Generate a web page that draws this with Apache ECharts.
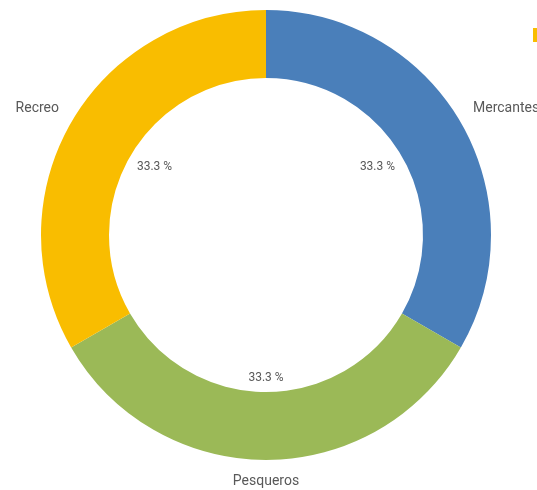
<!DOCTYPE html>
<html>
<head>
<meta charset="utf-8">
<script src="https://cdn.jsdelivr.net/npm/echarts@6/dist/echarts.min.js"></script>
<style>
  html, body { margin: 0; padding: 0; background: #fff; }
  #chart { width: 537px; height: 490px; }
</style>
</head>
<body>
<div id="chart"></div>
<script>
// slices, clockwise from 12 o'clock
const categories = ['Mercantes', 'Pesqueros', 'Recreo']
const values = [1, 1, 1]
const colors = ['#4a7fba', '#9bb957', '#f9bd00']
const legendOrder = ['Recreo', 'Mercantes', 'Pesqueros']

const total = values.reduce((a, b) => a + b, 0)

const slices = categories.map((name, i) => ({
  name: name,
  value: values[i],
  itemStyle: { color: colors[i] }
}))

// put the label box next to the end of the (hidden) label line,
// pushed away from it (outward) or pulled back from it (inward)
function boxAtLineEnd (inward) {
  return function (params) {
    const pts = params.labelLinePoints
    if (!pts) return {}
    const p0 = pts[0]
    const p1 = pts[1]
    let ux = p1[0] - p0[0]
    let uy = p1[1] - p0[1]
    const n = Math.sqrt(ux * ux + uy * uy) || 1
    ux /= n
    uy /= n
    const w = params.labelRect.width
    const h = params.labelRect.height
    const s = inward ? -1 : 1
    const sx = Math.abs(ux) < 0.15 ? 0 : Math.sign(ux)
    const sy = Math.abs(uy) < 0.15 ? 0 : Math.sign(uy)
    return {
      x: p1[0] + s * sx * w / 2,
      y: p1[1] + s * sy * h / 2,
      align: 'center',
      verticalAlign: 'middle'
    }
  }
}

const chart = echarts.init(document.getElementById('chart'))

chart.setOption({
  animation: false,
  // legend runs off the right edge, only its first swatch shows
  legend: {
    data: legendOrder,
    orient: 'vertical',
    left: 533,
    top: 28,
    padding: 0,
    itemGap: 470,
    icon: 'rect',
    itemWidth: 14,
    itemHeight: 14,
    textStyle: { color: '#595959', fontFamily: 'Roboto', fontSize: 13 }
  },
  series: [
    {
      name: 'ring',
      type: 'pie',
      center: [266, 235],
      radius: [157, 225],
      startAngle: 90,
      clockwise: true,
      avoidLabelOverlap: false,
      label: {
        show: true,
        position: 'outside',
        formatter: '{b}',
        color: '#595959',
        fontFamily: 'Roboto',
        fontSize: 14
      },
      labelLine: { show: true, length: 14, length2: 0, lineStyle: { opacity: 0 } },
      labelLayout: boxAtLineEnd(false),
      emphasis: { disabled: true },
      data: slices
    },
    {
      // transparent copy, only used to place the percentages inside the hole
      name: 'pct',
      type: 'pie',
      center: [266, 235],
      radius: [0, 130],
      startAngle: 90,
      silent: true,
      avoidLabelOverlap: false,
      itemStyle: { color: 'transparent' },
      label: {
        show: true,
        position: 'outside',
        formatter: p => (p.value / total * 100).toFixed(1) + ' %',
        color: '#595959',
        fontFamily: 'Roboto',
        fontSize: 12
      },
      labelLine: { show: true, length: 19, length2: 0, lineStyle: { opacity: 0 } },
      labelLayout: boxAtLineEnd(true),
      data: categories.map((name, i) => ({ name: name, value: values[i] }))
    }
  ]
})
</script>
</body>
</html>
